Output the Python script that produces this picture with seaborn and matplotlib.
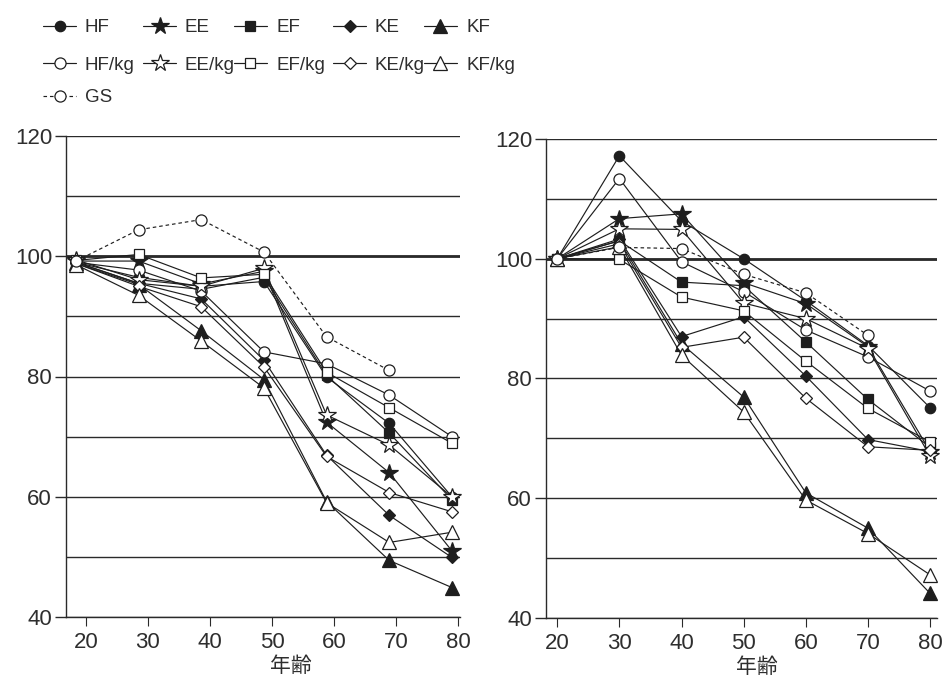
import numpy as np
import matplotlib
matplotlib.use("Agg")
import matplotlib.pyplot as plt
from matplotlib.lines import Line2D
import seaborn as sns

# ---- data -----------------------------------------------------------
# left panel: mean age of each group; right panel: age class
age_left = [18.4, 28.5, 38.6, 48.7, 58.8, 68.9, 79.0]
age_right = [20, 30, 40, 50, 60, 70, 80]

hf_left = [99.0, 96.5, 95.0, 95.8, 79.9, 72.2, 60.0]
ee_left = [99.2, 99.2, 95.4, 97.5, 72.4, 64.0, 51.0]
ef_left = [99.0, 95.5, 94.5, 96.5, 80.2, 70.6, 59.5]
ke_left = [99.0, 95.5, 92.9, 82.7, 66.9, 56.9, 49.9]
kf_left = [98.8, 95.3, 87.6, 79.5, 59.2, 49.4, 44.9]
hfkg_left = [99.0, 97.7, 94.2, 84.1, 82.1, 76.9, 70.0]
eekg_left = [99.4, 96.1, 95.0, 98.0, 73.6, 68.6, 60.0]
efkg_left = [99.3, 100.3, 96.4, 97.0, 80.7, 74.8, 68.9]
kekg_left = [98.8, 95.0, 91.6, 81.6, 66.7, 60.7, 57.5]
kfkg_left = [98.6, 93.5, 85.9, 78.1, 59.0, 52.4, 54.1]
gs_left = [99.2, 104.4, 106.1, 100.7, 86.6, 81.0, np.nan]

hf_right = [100, 117.2, 106.3, 100.0, 93.0, 85.5, 75.1]
ee_right = [100, 106.7, 107.5, 96.0, 92.5, 85.3, 67.8]
ef_right = [100, 103.0, 96.1, 95.5, 86.1, 76.5, 68.5]
ke_right = [100, 103.3, 87.0, 90.3, 80.4, 69.8, 67.8]
kf_right = [100, 103.0, 85.8, 76.9, 60.9, 55.0, 44.1]
hfkg_right = [100, 113.4, 99.5, 94.5, 88.1, 83.6, 77.9]
eekg_right = [100, 105.0, 104.9, 92.6, 90.0, 85.0, 67.0]
efkg_right = [100, 99.9, 93.6, 91.3, 82.9, 75.0, 69.4]
kekg_right = [100, 102.5, 85.2, 86.9, 76.7, 68.6, 68.0]
kfkg_right = [100, 102.0, 83.9, 74.4, 59.7, 54.1, 47.2]
gs_right = [100, 101.9, 101.7, 97.4, 94.3, 87.2, np.nan]

series_names = ["HF", "EE", "EF", "KE", "KF",
                "HF/kg", "EE/kg", "EF/kg", "KE/kg", "KF/kg", "GS"]
left_values = [hf_left, ee_left, ef_left, ke_left, kf_left,
               hfkg_left, eekg_left, efkg_left, kekg_left, kfkg_left, gs_left]
right_values = [hf_right, ee_right, ef_right, ke_right, kf_right,
                hfkg_right, eekg_right, efkg_right, kekg_right, kfkg_right, gs_right]

x_label = "年齢"

# ---- styling --------------------------------------------------------
INK = "#1e1e1e"
TXT = "#2e2e2e"
GRID = "#2a2a2a"

# marker, marker size, filled, linestyle
STYLE = {
    "HF":    ("o", 7.5, True, "-"),
    "EE":    ("*", 13, True, "-"),
    "EF":    ("s", 7, True, "-"),
    "KE":    ("D", 6.5, True, "-"),
    "KF":    ("^", 10, True, "-"),
    "HF/kg": ("o", 8, False, "-"),
    "EE/kg": ("*", 13, False, "-"),
    "EF/kg": ("s", 7, False, "-"),
    "KE/kg": ("D", 6.5, False, "-"),
    "KF/kg": ("^", 10, False, "-"),
    "GS":    ("o", 8, False, (0, (3, 2.5))),
}

sns.set_theme(style="white")
plt.rcParams["font.family"] = ["Liberation Sans", "Noto Sans CJK JP", "DejaVu Sans"]

W, H = 943, 688
fig = plt.figure(figsize=(W / 100, H / 100), dpi=100)


def frac_box(x0, y_top, x1, y_bot):
    return [x0 / W, 1 - y_bot / H, (x1 - x0) / W, (y_bot - y_top) / H]


ax_l = fig.add_axes(frac_box(66, 136, 460, 617))
ax_r = fig.add_axes(frac_box(546, 139, 937, 618))


def line_kws(name):
    marker, ms, filled, ls = STYLE[name]
    return dict(
        color=INK,
        linewidth=0.85,
        linestyle=ls,
        marker=marker,
        markersize=ms,
        markerfacecolor=INK if filled else "white",
        markeredgecolor=INK,
        markeredgewidth=0.9,
        clip_on=False,
    )


def draw_panel(ax, ages, values, xlim, label_x):
    for name, vals in zip(series_names, values):
        sns.lineplot(x=ages, y=vals, ax=ax, estimator=None, sort=False,
                     legend=False, zorder=3, **line_kws(name))
    ax.set_xlim(*xlim)
    ax.set_ylim(40, 120)
    ax.set_xticks([20, 30, 40, 50, 60, 70, 80])
    ax.set_yticks([40, 60, 80, 100, 120])
    ax.set_yticks([50, 70, 90, 110], minor=True)
    ax.grid(False)
    ax.yaxis.grid(True, which="both", color=GRID, linewidth=1.0)
    ax.axhline(100, color=GRID, linewidth=2.0, zorder=1)
    ax.tick_params(axis="y", which="major", length=8, width=1.0, color=GRID,
                   direction="out", pad=2, labelsize=16, labelcolor=TXT, left=True)
    ax.tick_params(axis="y", which="minor", length=0)
    ax.tick_params(axis="x", which="major", length=6.5, width=0.8, color=GRID,
                   direction="out", pad=4, labelsize=16, labelcolor=TXT, bottom=True)
    for side in ("top", "right"):
        ax.spines[side].set_visible(False)
    for side in ("left", "bottom"):
        ax.spines[side].set_color(GRID)
        ax.spines[side].set_linewidth(1.0)
    ax.set_ylabel("")
    ax.set_xlabel(x_label, fontsize=15, color=TXT,
                  family=["Noto Sans CJK JP", "DejaVu Sans"])
    ax.xaxis.set_label_coords(label_x, -0.08)


draw_panel(ax_l, age_left, left_values, (16.8, 80.3), 0.571)
draw_panel(ax_r, age_right, right_values, (18.2, 81.1), 0.54)

# ---- legend, laid out in three rows across the top ------------------
legend_rows = [
    ["HF", "EE", "EF", "KE", "KF"],
    ["HF/kg", "EE/kg", "EF/kg", "KE/kg", "KF/kg"],
    ["GS"],
]
text_x = [85, 185, 276, 375, 466]
row_y = [26, 63, 96]
for r, names in enumerate(legend_rows):
    yf = 1 - row_y[r] / H
    for c, name in enumerate(names):
        tx = text_x[c]
        kws = line_kws(name)
        kws.pop("clip_on")
        xs = [(tx - 42) / W, (tx - 9) / W]
        fig.add_artist(Line2D(xs, [yf, yf], transform=fig.transFigure,
                              linestyle=kws["linestyle"], color=kws["color"],
                              linewidth=kws["linewidth"]))
        fig.add_artist(Line2D([(xs[0] + xs[1]) / 2], [yf], transform=fig.transFigure,
                              linestyle="none", marker=kws["marker"],
                              markersize=kws["markersize"],
                              markerfacecolor=kws["markerfacecolor"],
                              markeredgecolor=kws["markeredgecolor"],
                              markeredgewidth=kws["markeredgewidth"]))
        fig.text(tx / W, yf, name, fontsize=13.5, color=TXT,
                 ha="left", va="center_baseline")

fig.savefig("out.png", dpi=100)
